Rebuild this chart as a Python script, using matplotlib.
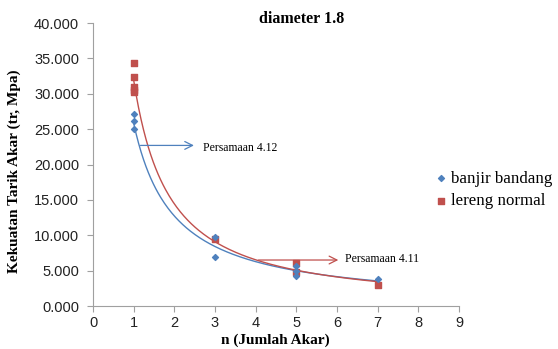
import numpy as np
import matplotlib
matplotlib.use('Agg')
import matplotlib.pyplot as plt
from matplotlib.font_manager import FontProperties

# data banjir bandang
bb_n = [1, 1, 1, 3, 3, 5, 5, 5, 7]
bb_tr = [27.2, 26.1, 25.0, 9.8, 6.9, 5.6, 5.0, 4.2, 3.8]
# data lereng normal
ln_n = [1, 1, 1, 1, 1, 3, 5, 5, 7]
ln_tr = [34.3, 32.4, 31.0, 30.5, 30.2, 9.5, 6.1, 4.8, 3.0]

x_ticks = list(range(0, 10))
y_ticks = [0, 5, 10, 15, 20, 25, 30, 35, 40]

blue = '#4F81BD'
red = '#C0504D'
grey = '#A0A0A0'

fig = plt.figure(figsize=(5.58, 3.49), dpi=100)
ax = fig.add_axes([0.1667, 0.1232, 0.6559, 0.8108])

# trendline power (y = a x^b)
def power_fit(x, y):
    b, loga = np.polyfit(np.log(x), np.log(y), 1)
    return np.exp(loga), b

xx = np.linspace(1, 7, 200)
a1, b1 = power_fit(np.array(bb_n, float), np.array(bb_tr, float))
a2, b2 = power_fit(np.array(ln_n, float), np.array(ln_tr, float))
ax.plot(xx, a1 * xx ** b1, color=blue, lw=1.0, zorder=2)
ax.plot(xx, a2 * xx ** b2, color=red, lw=1.0, zorder=2)

ax.scatter(ln_n, ln_tr, marker='s', s=20, color=red, label='lereng normal', zorder=3)
ax.scatter(bb_n, bb_tr, marker='D', s=9, color=blue, label='banjir bandang', zorder=4)

ax.set_xlim(0, 9)
ax.set_ylim(0, 40)
ax.set_xticks(x_ticks)
ax.set_yticks(y_ticks)
ax.set_yticklabels(['%.3f' % v for v in y_ticks])
for s in ['top', 'right']:
    ax.spines[s].set_visible(False)
for s in ['left', 'bottom']:
    ax.spines[s].set_color(grey)
ax.tick_params(colors=grey, labelcolor='#222222', labelsize=10.5, length=4)
ax.tick_params(axis='y', pad=6)
for lab in ax.get_xticklabels() + ax.get_yticklabels():
    lab.set_family('Liberation Sans')

# panah persamaan
ax.annotate('', xy=(2.55, 22.7), xytext=(1.1, 22.7),
            arrowprops=dict(arrowstyle='->', color=blue, lw=0.9, mutation_scale=14))
ax.text(2.7, 22.4, 'Persamaan 4.12', family='Liberation Serif', fontsize=8.5, va='center')
ax.annotate('', xy=(6.1, 6.5), xytext=(4.0, 6.5),
            arrowprops=dict(arrowstyle='->', color=red, lw=0.9, mutation_scale=14))
ax.text(6.2, 6.6, 'Persamaan 4.11', family='Liberation Serif', fontsize=8.5, va='center')

h, l = ax.get_legend_handles_labels()
leg_font = FontProperties(family='Liberation Serif', size=12.2)
fig.legend(h[::-1], l[::-1], loc='upper left', bbox_to_anchor=(0.745, 0.555),
           frameon=False, prop=leg_font,
           handletextpad=0.0, labelspacing=0.4, handlelength=1.2)

fig.text(0.54, 0.945, 'diameter 1.8', family='Liberation Serif', fontweight='bold',
         fontsize=11.5, ha='center', va='center')
fig.text(0.493, 0.025, 'n (Jumlah Akar)', family='Liberation Serif', fontweight='bold',
         fontsize=11, ha='center', va='center')
fig.text(0.025, 0.51, 'Kekuatan Tarik Akar (tr, Mpa)', family='Liberation Serif',
         fontweight='bold', fontsize=11, ha='center', va='center', rotation=90)

fig.savefig('out.png', dpi=100)
